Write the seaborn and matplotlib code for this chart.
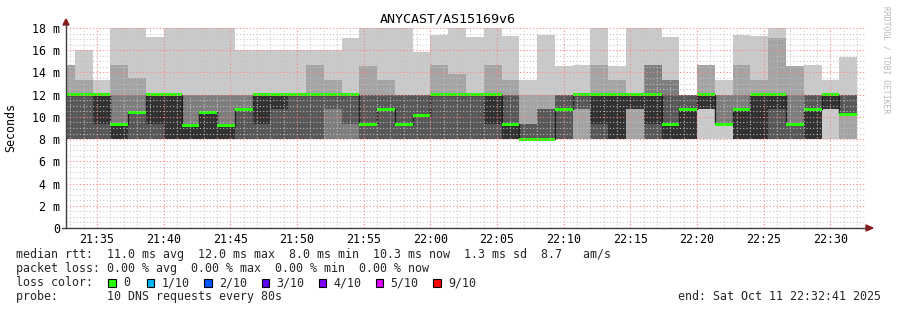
import numpy as np
import pandas as pd
import matplotlib
matplotlib.use("Agg")
import matplotlib.pyplot as plt
import matplotlib.dates as mdates
from matplotlib.patches import Rectangle, Polygon
import seaborn as sns

# ---------------- data ----------------
axis_start = pd.Timestamp("2025-10-11 21:32:41")
axis_end = pd.Timestamp("2025-10-11 22:32:41")
column_end = pd.date_range("2025-10-11 21:33:21", periods=45, freq="80s")

# ten sorted ping times (ms) per 80 s step
ping_1 = [8,8,8,8,8,8,8,8,8,8, 8,8,8,8,8,8,8,8,8,8, 8,8,8,8,8,8,8,8,8,8, 8,8,8,8,8,8,8,8,8,8, 8,8,8,8,8]
ping_2 = [8,8,8,8,8,8,8,8,8,8, 8,8,8,8,8,8,8,8,8,8, 8,8,8,8,8,8,8,8,8,8, 8,8,8,8,8,8,10.67,9.33,8,8, 8,8,8,10.67,8]
ping_3 = [8,8,8,8,8,8,8,8,8,8, 8,8,8,8,8,8,8,8,8,8, 8,8,8,8,8,8,8,8,8,10.67, 8,8,10.67,8,8,8,10.67,9.33,8,8, 8,8,8,10.67,10.25]
ping_4 = [8,8,8,8,8,8,8,8,8,8, 8,8,8,8,8,10.67,9.33,8,8,8, 8,8,8,8,8,8,8,8,8,10.67, 8,8,10.67,8,8,8,10.67,9.33,8,8, 8,8,8,10.67,10.25]
ping_5 = [12,12,9.33,8,10.4,9.33,8,8,8,8, 10.7,9.33,10.67,12,12,12,12,9.33,10.67,9.33, 10.1,12,12,12,9.33,8,8,8,10.67,12, 9.33,8,10.67,9.33,8,8,10.67,9.33,8,8, 10.67,9.33,8,10.67,10.25]
ping_6 = [12,12,12,9.33,10.4,12,12,9.2,10.4,9.2, 10.7,12,12,12,12,12,12,9.33,10.67,9.33, 10.1,12,12,12,12,9.33,8,8,10.67,12, 12,12,12,12,9.33,10.67,12,9.33,10.67,12, 12,9.33,10.67,12,10.25]
ping_7 = [12,12,12,9.33,10.4,12,12,9.2,10.4,9.2, 10.7,12,12,12,12,12,12,12,12,12, 12,12,12,12,12,12,9.33,10.67,12,12, 12,12,12,12,12,12,12,9.33,10.67,12, 12,9.33,12,12,12]
ping_8 = [12,12,12,12,12,12,12,12,12,12, 12,12,12,12,12,12,12,12,12,12, 12,12,12,12,12,12,9.33,10.67,12,12, 12,12,12,14.7,13.3,12,12,12,12,12, 12,12,12,12,12]
ping_9 = [14.7,13.3,12,14.7,13.5,12,12,12,12,12, 12,12,12,12,14.7,13.3,12,14.6,13.3,12, 12,14.7,13.9,12,14.7,13.3,12,12,12,12, 14.7,13.3,12,14.7,13.3,12,14.7,12,14.7,13.3, 17.1,14.6,12,12,12]
ping_10 = [14.7,16,13.3,18.5,18.5,17.2,18.5,18.5,18.5,18.5, 16,16,16,16,16,16,17.1,18.5,18.5,18.5, 15.8,17.4,18.5,17.2,18.5,17.3,13.3,17.4,14.6,14.7, 18.5,14.6,18.5,18.5,17.2,12,14.7,13.3,17.4,17.3, 18.5,14.6,14.7,13.3,15.4]
loss = [0] * 45

y_ticks = [0, 2, 4, 6, 8, 10, 12, 14, 16, 18]
y_tick_labels = ["0"] + [f"{v} m" for v in y_ticks[1:]]

loss_labels = ["0", "1/10", "2/10", "3/10", "4/10", "5/10", "9/10"]
loss_colors = ["#26ff00", "#00b8ff", "#0059ff", "#5e00ff", "#7e00ff", "#dd00ff", "#ff0000"]

title = "ANYCAST/AS15169v6"
stats_line = "median rtt:  11.0 ms avg  12.0 ms max  8.0 ms min  10.3 ms now  1.3 ms sd  8.7   am/s"
loss_line = "packet loss: 0.00 % avg  0.00 % max  0.00 % min  0.00 % now"
probe_line = "probe:       10 DNS requests every 80s"
end_line = "end: Sat Oct 11 22:32:41 2025"

# ---------------- figure ----------------
sns.set_theme(style="white")
plt.rcParams["font.family"] = ["DejaVu Sans Mono", "DejaVu Sans"]
FS = 8.4

W, H = 897, 310
fig = plt.figure(figsize=(W / 100, H / 100), dpi=100, facecolor="white")
ax = fig.add_axes([66 / W, 82 / H, 800 / W, 200 / H])
ax.set_facecolor("white")

P = np.array([ping_1, ping_2, ping_3, ping_4, ping_5, ping_6, ping_7, ping_8, ping_9, ping_10], dtype=float)
edges = mdates.date2num(np.concatenate([[axis_start.to_pydatetime()], column_end.to_pydatetime()]))

half = 5
for i in range(1, half + 1):
    g = int(190 / half * (half - i)) + 50
    col = "#%02x%02x%02x" % (g, g, g)
    ax.stairs(P[10 - i], edges, baseline=P[i - 1], fill=True, color=col, lw=0, zorder=1)

median = P[5]
sns.lineplot(x=edges, y=np.append(median, median[-1]), drawstyle="steps-post",
             color="#202020", lw=1, estimator=None, ax=ax, zorder=1)
sw = 0.14
ax.stairs(median + sw, edges, baseline=median - sw, fill=True,
          color=loss_colors[0], lw=0, zorder=1)

ax.set_xlim(mdates.date2num(axis_start.to_pydatetime()), mdates.date2num(axis_end.to_pydatetime()))
ax.set_ylim(0, 18)
ax.xaxis.set_major_locator(mdates.MinuteLocator(byminute=range(0, 60, 5)))
ax.xaxis.set_minor_locator(mdates.MinuteLocator())
ax.xaxis.set_major_formatter(mdates.DateFormatter("%H:%M"))
ax.set_yticks(y_ticks)
ax.set_yticklabels(y_tick_labels)
ax.set_yticks(np.arange(0, 18.01, 0.5), minor=True)
ax.set_axisbelow(False)
ax.grid(which="minor", color="#c4c4c4", ls=(0, (1, 2)), lw=0.8, alpha=0.9)
ax.grid(which="major", color="#ff8080", ls=(0, (1, 2)), lw=0.8)
ax.tick_params(axis="both", which="both", length=0, labelsize=FS, colors="black")
ax.tick_params(axis="y", pad=4.5)
ax.tick_params(axis="x", pad=3.5)
ax.set_xlabel("")
ax.set_ylabel("")
for s in ax.spines.values():
    s.set_visible(False)

# ---------------- overlay in pixel coords ----------------
ov = fig.add_axes([0, 0, 1, 1], facecolor="none")
ov.set_xlim(0, W)
ov.set_ylim(H, 0)
ov.axis("off")

ov.plot([66, 66], [228, 24], color="#404040", lw=1)
ov.plot([62, 867], [228, 228], color="#404040", lw=1)
ov.add_patch(Polygon([[63, 25], [69, 25], [66, 19]], closed=True, color="#8b1a1a"))
ov.add_patch(Polygon([[866, 225], [866, 231], [873, 228]], closed=True, color="#8b1a1a"))

ov.text(448, 19, title, ha="center", va="center", fontsize=9.6, color="black")
ov.text(11, 127, "Seconds", rotation=90, ha="center", va="center", fontsize=FS, color="black")
ov.text(886, 60, "RRDTOOL / TOBI OETIKER", rotation=270, ha="center", va="center",
        fontsize=5.8, color="#b8b8b8")

ov.text(16.5, 258, stats_line, ha="left", va="baseline", fontsize=FS)
ov.text(16.5, 272, loss_line, ha="left", va="baseline", fontsize=FS)
ov.text(16.5, 286, "loss color:", ha="left", va="baseline", fontsize=FS)
ov.text(16.5, 300, probe_line, ha="left", va="baseline", fontsize=FS)
ov.text(678, 300, end_line, ha="left", va="baseline", fontsize=FS)

bx = 108.3
for k, (lab, c) in enumerate(zip(loss_labels, loss_colors)):
    ov.add_patch(Rectangle((bx, 279.3), 7.3, 7.3, facecolor=c, edgecolor="black", lw=0.8))
    ov.text(bx + 14.5, 286, lab, ha="left", va="baseline", fontsize=FS)
    bx += 38.6 if k == 0 else 57.3

fig.savefig("out.png", dpi=100, facecolor="white")
